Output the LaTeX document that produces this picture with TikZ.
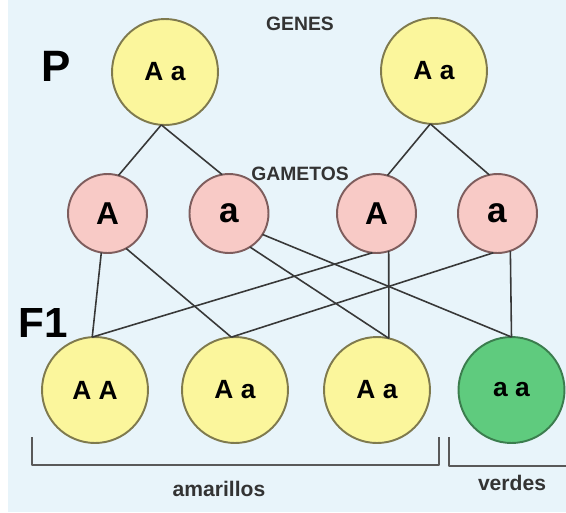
\documentclass[tikz,border=0pt]{standalone}
\usepackage{fontspec}
\setmainfont{Liberation Sans}
\usepackage{xcolor}
\usetikzlibrary{calc}

\definecolor{bgblue}{HTML}{E8F4FA}
\definecolor{yelfill}{HTML}{FBF69C}
\definecolor{yeldraw}{HTML}{7F7A4E}
\definecolor{pinkfill}{HTML}{F8CAC6}
\definecolor{pinkdraw}{HTML}{7E5D5D}
\definecolor{grnfill}{HTML}{5FCB7E}
\definecolor{grndraw}{HTML}{3B7D4E}
\definecolor{linkgray}{HTML}{383838}

\begin{document}
\begin{tikzpicture}[x=0.02cm,y=-0.02cm,line join=round,
  parent/.style={circle,draw=yeldraw,fill=yelfill,line width=1.1pt,minimum size=2.12cm,
    inner sep=0pt,outer sep=0pt,font=\fontsize{15}{15}\selectfont\bfseries},
  gamete/.style={circle,draw=pinkdraw,fill=pinkfill,line width=1.1pt,minimum size=1.58cm,
    inner sep=0pt,outer sep=0pt,font=\fontsize{18}{18}\selectfont\bfseries},
  child/.style={parent},
  green child/.style={parent,draw=grndraw,fill=grnfill},
  link/.style={draw=linkgray,line width=0.9pt},
  brack/.style={draw=black!65,line width=1.1pt},
  title/.style={font=\fontsize{11}{11}\selectfont\bfseries,text=black!80},
  gen/.style={font=\fontsize{25}{25}\selectfont\bfseries}]
  % background and page size
  \useasboundingbox (0,0) rectangle (566,512);
  \fill[bgblue] (8,0) rectangle (566,512);
  % generation P
  \node[gen] (lblP) at (56,66) {P};
  \node[title] (genes) at (300,24) {GENES};
  \node[parent] (PL) at (165,72) {A a};
  \node[parent] (PR) at (434,71) {A a};
  % gametes
  \node[title] (gametos) at (300,174) {GAMETOS};
  \node[gamete] (GA1) at (107.5,213.5) {A};
  \node[gamete,font=\fontsize{20}{20}\selectfont\bfseries] (Ga1) at (229,213.5) {a};
  \node[gamete] (GA2) at (376.5,213.5) {A};
  \node[gamete,font=\fontsize{20}{20}\selectfont\bfseries] (Ga2) at (497.5,213.5) {a};
  % generation F1
  \node[gen,font=\fontsize{24}{24}\selectfont\bfseries] (lblF) at (43,323) {F1};
  \node[child] (AA) at (95,390) {A A};
  \node[child] (Aa1) at (235,390) {A a};
  \node[child] (Aa2) at (377,390) {A a};
  \node[green child] (aa) at (511.5,390) {a a};
  % parents to gametes
  \draw[link] (PL.-94) -- (GA1.74);
  \draw[link] (PL.-94) -- (Ga1.100);
  \draw[link] (PR.-94) -- (GA2.74);
  \draw[link] (PR.-94) -- (Ga2.102);
  % gametes to F1
  \draw[link] (GA1.-99) -- (AA.93);
  \draw[link] (GA1.-62) -- (Aa1.94);
  \draw[link] (Ga1.-58) -- (Aa2.77);
  \draw[link] (Ga1.-32) -- (aa.90);
  \draw[link] (GA2.-96) -- (AA.93);
  \draw[link] (GA2.-72) -- (Aa2.77);
  \draw[link] (Ga2.-96) -- (Aa1.94);
  \draw[link] (Ga2.-71) -- (aa.90);
  % brackets
  \draw[brack] (32,437) -- (32,465) -- (439,465) -- (439,437);
  \draw[brack] (449,437) -- (449,466) -- (566,466);
  \node[font=\fontsize{12}{12}\selectfont\bfseries,text=black!80] (amar) at (219,489) {amarillos};
  \node[font=\fontsize{12}{12}\selectfont\bfseries,text=black!80] (verd) at (512,483) {verdes};
\end{tikzpicture}
\end{document}
